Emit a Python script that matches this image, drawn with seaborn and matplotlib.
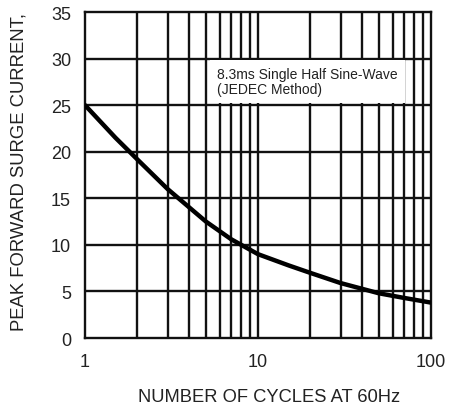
import matplotlib
matplotlib.use("Agg")
import matplotlib.pyplot as plt
import seaborn as sns
import pandas as pd
import numpy as np

cycles = [1, 1.5, 2, 3, 5, 7, 10, 15, 20, 30, 50, 70, 100]
current = [25.0, 21.5, 19.2, 16.0, 12.5, 10.6, 9.0, 7.8, 7.0, 5.9, 4.8, 4.3, 3.8]
y_ticks = [0, 5, 10, 15, 20, 25, 30, 35]
x_ticks = [1, 10, 100]
x_ticklabels = ["1", "10", "100"]

sns.set_style("white")
plt.rcParams['font.family'] = ['Liberation Sans', 'DejaVu Sans']

fig = plt.figure(figsize=(4.57, 4.06), dpi=100)
ax = fig.add_axes([85/457, 1-339/406, (431-85)/457, (339-13)/406])

df = pd.DataFrame({"cycles": cycles, "current": current})
ax.set_xscale("log")
ax.set_xlim(1, 100)
ax.set_ylim(0, 35)

# grid
for dec in (1, 10):
    for k in range(2, 10):
        ax.axvline(dec*k, color="#111111", lw=1.7, zorder=1)
for yv in y_ticks[1:-1]:
    ax.axhline(yv, color="#111111", lw=1.7, zorder=1)
ax.axvline(10, color="#111111", lw=1.7, zorder=1)

sns.lineplot(data=df, x="cycles", y="current", color="black", lw=3.2, ax=ax, zorder=3)

for s in ax.spines.values():
    s.set_color("#111111")
    s.set_linewidth(1.7)

ax.set_xticks(x_ticks)
ax.set_xticklabels(x_ticklabels)
ax.xaxis.set_minor_locator(matplotlib.ticker.NullLocator())
ax.set_yticks(y_ticks)
ax.tick_params(axis="both", length=0, labelsize=13, colors="#222222")
ax.tick_params(axis="y", pad=10)
ax.tick_params(axis="x", pad=11)
ax.set_xlabel("NUMBER OF CYCLES AT 60Hz", fontsize=13.2, color="#222222")
ax.xaxis.label.set_position(((269-85)/346, 0))
ax.xaxis.labelpad = 13
ax.set_ylabel("")
fig.text(19/457, 1-331/406, "PEAK FORWARD SURGE CURRENT,", rotation=90, ha="center", va="bottom",
         fontsize=13.3, color="#222222")

ax.text(217/457, 1-82.5/406, "8.3ms Single Half Sine-Wave\n(JEDEC Method)", transform=fig.transFigure,
        fontsize=10, color="#222222", ha="left", va="center", linespacing=1.15, zorder=5,
        bbox=dict(facecolor="white", edgecolor="none", pad=5))

fig.savefig("out.png", dpi=100)
